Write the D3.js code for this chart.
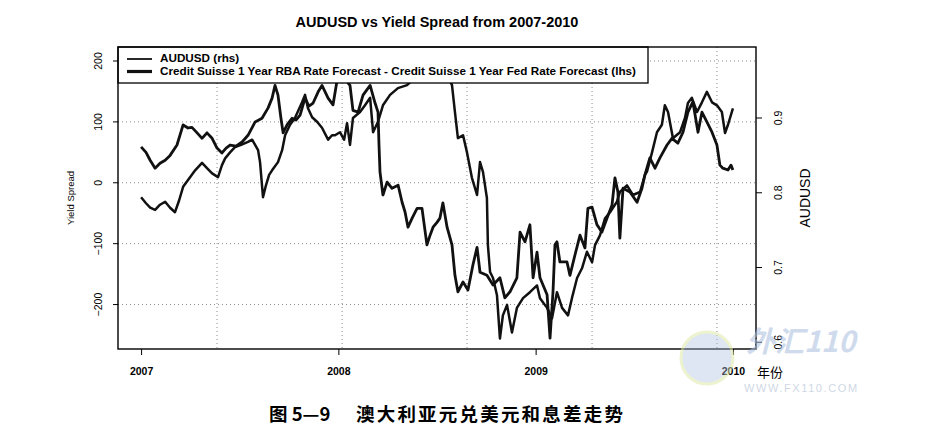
<!DOCTYPE html>
<html>
<head>
<meta charset="utf-8">
<script src="https://cdn.jsdelivr.net/npm/d3@7"></script>
<style>
  html, body { margin: 0; padding: 0; background: #fff; }
  svg { display: block; }
</style>
</head>
<body>
<div id="chart"></div>
<script>
// Yield spread (lhs, bp) - decimal year / value
const spreadT = [
  2007.000,2007.025,2007.046,2007.071,2007.096,2007.122,2007.147,2007.182,2007.213,2007.238,
  2007.258,2007.284,2007.309,2007.334,2007.360,2007.385,2007.410,2007.431,2007.451,2007.481,
  2007.512,2007.542,2007.578,2007.613,2007.644,2007.664,2007.679,2007.694,2007.709,2007.720,
  2007.740,2007.765,2007.785,2007.806,2007.831,2007.851,2007.872,2007.897,2007.917,2007.948,
  2007.973,2007.998,2008.029,2008.059,2008.074,2008.100,2008.125,2008.161,2008.186,2008.201,
  2008.206,2008.211,2008.226,2008.247,2008.272,2008.303,2008.323,2008.338,2008.353,2008.374,
  2008.399,2008.424,2008.449,2008.465,2008.480,2008.500,2008.515,2008.530,2008.551,2008.576,
  2008.591,2008.606,2008.632,2008.657,2008.682,2008.703,2008.718,2008.753,2008.784,2008.819,
  2008.844,2008.870,2008.905,2008.921,2008.946,2008.971,2008.987,2009.007,2009.022,2009.058,
  2009.073,2009.088,2009.098,2009.108,2009.123,2009.159,2009.174,2009.199,2009.225,2009.250,
  2009.265,2009.286,2009.311,2009.336,2009.362,2009.387,2009.402,2009.417,2009.427,2009.443,
  2009.478,2009.514,2009.539,2009.554,2009.579,2009.605,2009.630,2009.666,2009.691,2009.721,
  2009.747,2009.772,2009.797,2009.823,2009.843,2009.868,2009.894,2009.919,2009.934,2009.949,
  2009.975,2009.990,2010.000
];
const spreadV = [
  59,50,37,24,32,37,45,62,95,90,
  91,82,73,82,73,57,49,57,62,60,
  67,78,100,106,123,139,160,144,106,82,
  95,106,103,111,139,126,131,149,160,139,
  128,177,172,160,119,116,144,160,131,116,
  62,18,-20,1,-9,-4,-32,-48,-73,-58,
  -42,-42,-102,-86,-73,-65,-58,-33,-73,-102,
  -152,-179,-163,-176,-135,-106,-147,-152,-168,-156,
  -189,-179,-156,-81,-97,-69,-156,-114,-156,-184,
  -255,-179,-102,-97,-130,-130,-152,-119,-86,-107,
  -42,-40,-69,-81,-58,-37,8,-15,-91,-9,
  -15,-32,-9,13,41,24,41,62,73,65,
  83,116,133,83,116,100,83,62,29,24,
  21,29,21
];

// AUDUSD (rhs)
const audT = [
  2007.000,2007.025,2007.046,2007.071,2007.096,2007.122,2007.147,2007.172,2007.193,2007.213,
  2007.238,2007.274,2007.309,2007.334,2007.360,2007.390,2007.410,2007.426,2007.451,2007.476,
  2007.507,2007.542,2007.563,2007.578,2007.593,2007.603,2007.618,2007.633,2007.649,2007.664,
  2007.694,2007.715,2007.730,2007.755,2007.780,2007.816,2007.831,2007.846,2007.867,2007.892,
  2007.917,2007.948,2007.968,2007.983,2008.008,2008.029,2008.044,2008.059,2008.074,2008.110,
  2008.135,2008.161,2008.176,2008.201,2008.226,2008.262,2008.302,2008.348,2008.378,2008.414,
  2008.449,2008.480,2008.515,2008.546,2008.576,2008.591,2008.606,2008.632,2008.652,2008.677,
  2008.703,2008.718,2008.733,2008.753,2008.758,2008.769,2008.784,2008.804,2008.819,2008.834,
  2008.855,2008.880,2008.905,2008.936,2008.971,2009.007,2009.022,2009.058,2009.083,2009.108,
  2009.134,2009.164,2009.184,2009.210,2009.235,2009.260,2009.286,2009.301,2009.326,2009.352,
  2009.377,2009.412,2009.427,2009.463,2009.493,2009.529,2009.554,2009.564,2009.590,2009.615,
  2009.640,2009.655,2009.671,2009.696,2009.732,2009.757,2009.772,2009.792,2009.818,2009.843,
  2009.868,2009.894,2009.919,2009.944,2009.960,2009.975,2010.000
];
const audV = [
  0.794,0.786,0.780,0.777,0.784,0.788,0.780,0.774,0.790,0.808,
  0.817,0.830,0.840,0.833,0.826,0.821,0.837,0.846,0.854,0.861,
  0.864,0.868,0.871,0.864,0.857,0.841,0.794,0.810,0.824,0.830,
  0.841,0.857,0.877,0.891,0.900,0.921,0.931,0.913,0.901,0.895,
  0.887,0.871,0.877,0.877,0.881,0.871,0.893,0.864,0.900,0.908,
  0.917,0.927,0.881,0.895,0.917,0.931,0.940,0.944,0.951,0.962,
  0.958,0.964,0.967,0.962,0.944,0.908,0.873,0.877,0.854,0.820,
  0.797,0.841,0.828,0.793,0.730,0.694,0.686,0.663,0.605,0.636,
  0.650,0.613,0.646,0.659,0.667,0.676,0.659,0.646,0.632,0.667,
  0.646,0.636,0.659,0.686,0.699,0.721,0.707,0.730,0.743,0.766,
  0.774,0.788,0.801,0.810,0.797,0.801,0.824,0.828,0.854,0.881,
  0.891,0.917,0.908,0.873,0.881,0.900,0.920,0.927,0.908,0.921,
  0.935,0.921,0.917,0.908,0.880,0.891,0.913
];

// ticks / labels
const yearTicks = [2007, 2008, 2009, 2010];
const spreadTicks = [-200, -100, 0, 100, 200];
const audTicks = [0.6, 0.7, 0.8, 0.9];
const gridYears = [2007.385, 2008.019, 2008.652, 2009.286, 2009.919];
const legendLabels = [
  'AUDUSD (rhs)',
  'Credit Suisse 1 Year RBA Rate Forecast - Credit Suisse 1 Year Fed Rate Forecast (lhs)'
];

const W = 942, H = 448;
const plot = { left: 118, right: 756, top: 47, bottom: 349 };
const FONT = '"Liberation Sans", Arial, sans-serif';
const CJK = '"Noto Sans CJK SC", sans-serif';

const svg = d3.select('#chart').append('svg')
  .attr('width', W).attr('height', H)
  .attr('viewBox', [0, 0, W, H]);

// scales (R style 4% padding already folded into the domains)
const x = d3.scaleLinear().domain([2006.883, 2010.117]).range([plot.left, plot.right]);
const yL = d3.scaleLinear().domain([-273, 223]).range([plot.bottom, plot.top]);
const yR = d3.scaleLinear().domain([0.591, 0.995]).range([plot.bottom, plot.top]);

// title
svg.append('text')
  .attr('x', (plot.left + plot.right) / 2).attr('y', 27)
  .attr('text-anchor', 'middle')
  .style('font', `bold 14.5px ${FONT}`)
  .text('AUDUSD vs Yield Spread from 2007-2010');

// dotted grid
const grid = svg.append('g')
  .attr('stroke', '#8a8a8a').attr('stroke-width', 1)
  .attr('stroke-dasharray', '1,3');
grid.selectAll('.hg').data(spreadTicks).enter().append('line')
  .attr('x1', plot.left).attr('x2', plot.right)
  .attr('y1', d => yL(d)).attr('y2', d => yL(d));
grid.selectAll('.vg').data(gridYears).enter().append('line')
  .attr('y1', plot.top).attr('y2', plot.bottom)
  .attr('x1', d => x(d)).attr('x2', d => x(d));

// lines
svg.append('clipPath').attr('id', 'clip')
  .append('rect')
  .attr('x', plot.left).attr('y', plot.top)
  .attr('width', plot.right - plot.left).attr('height', plot.bottom - plot.top);

const spreadLine = d3.line().x(d => x(d[0])).y(d => yL(d[1]));
const audLine = d3.line().x(d => x(d[0])).y(d => yR(d[1]));

const lines = svg.append('g').attr('clip-path', 'url(#clip)');
lines.append('path')
  .datum(spreadT.map((t, i) => [t, spreadV[i]]))
  .attr('d', spreadLine)
  .attr('fill', 'none').attr('stroke', '#111')
  .attr('stroke-width', 2.8).attr('stroke-linejoin', 'round');
lines.append('path')
  .datum(audT.map((t, i) => [t, audV[i]]))
  .attr('d', audLine)
  .attr('fill', 'none').attr('stroke', '#111')
  .attr('stroke-width', 2.5).attr('stroke-linejoin', 'round');

// left axis
const axL = svg.append('g')
  .attr('transform', `translate(${plot.left},0)`)
  .call(d3.axisLeft(yL).tickValues(spreadTicks).tickSize(5).tickFormat(d3.format('d')));
axL.select('.domain').remove();
axL.selectAll('.tick').attr('transform', null);
axL.selectAll('.tick line').attr('y1', d => yL(d)).attr('y2', d => yL(d));
axL.selectAll('text')
  .attr('x', null).attr('dy', null).attr('y', 0)
  .attr('text-anchor', 'middle')
  .attr('transform', d => `translate(-19,${yL(d)}) rotate(-90)`)
  .attr('dominant-baseline', 'middle')
  .style('font', `10.5px ${FONT}`);

// right axis
const axR = svg.append('g')
  .attr('transform', `translate(${plot.right},0)`)
  .call(d3.axisRight(yR).tickValues(audTicks).tickSize(6).tickFormat(d3.format('.1f')));
axR.select('.domain').remove();
axR.selectAll('.tick').attr('transform', null);
axR.selectAll('.tick line').attr('y1', d => yR(d)).attr('y2', d => yR(d));
axR.selectAll('text')
  .attr('x', null).attr('dy', null).attr('y', 0)
  .attr('text-anchor', 'middle')
  .attr('transform', d => `translate(23,${yR(d)}) rotate(-90)`)
  .attr('dominant-baseline', 'middle')
  .style('font', `10.5px ${FONT}`);

// bottom axis
const axB = svg.append('g')
  .attr('transform', `translate(0,${plot.bottom})`)
  .call(d3.axisBottom(x).tickValues(yearTicks).tickSize(6).tickFormat(d3.format('d')));
axB.select('.domain').remove();
axB.selectAll('text')
  .attr('y', 19)
  .style('font', `bold 10.5px ${FONT}`);

// axis titles
svg.append('text')
  .attr('transform', `translate(71,${(plot.top + plot.bottom) / 2}) rotate(-90)`)
  .attr('text-anchor', 'middle').attr('dominant-baseline', 'middle')
  .style('font', `9.5px ${FONT}`)
  .text('Yield Spread');
svg.append('text')
  .attr('transform', `translate(806,${(plot.top + plot.bottom) / 2}) rotate(-90)`)
  .attr('text-anchor', 'middle').attr('dominant-baseline', 'middle')
  .style('font', `14px ${FONT}`)
  .text('AUDUSD');

// legend (white box over the lines)
const lg = svg.append('g');
lg.append('rect')
  .attr('x', plot.left).attr('y', plot.top)
  .attr('width', 530).attr('height', 36)
  .attr('fill', '#fff').attr('stroke', '#000').attr('stroke-width', 1.3);
legendLabels.forEach((lab, i) => {
  const yy = plot.top + 12 + i * 12.5;
  lg.append('line')
    .attr('x1', plot.left + 9).attr('x2', plot.left + 34)
    .attr('y1', yy).attr('y2', yy)
    .attr('stroke', '#111').attr('stroke-width', i === 0 ? 1.8 : 3.2);
  lg.append('text')
    .attr('x', plot.left + 42).attr('y', yy)
    .attr('dominant-baseline', 'middle')
    .style('font', `bold 11.7px ${FONT}`)
    .text(lab);
});

// plot box
svg.append('rect')
  .attr('x', plot.left).attr('y', plot.top)
  .attr('width', plot.right - plot.left).attr('height', plot.bottom - plot.top)
  .attr('fill', 'none').attr('stroke', '#000').attr('stroke-width', 1.4);

// 年份 + caption
svg.append('text')
  .attr('x', 757).attr('y', 377)
  .style('font', `13px ${CJK}`)
  .text('年份');
svg.append('text')
  .attr('x', 269).attr('y', 421)
  .style('font', `bold 18.5px ${CJK}`)
  .text('图 5—9');
svg.append('text')
  .attr('x', 356).attr('y', 421)
  .attr('letter-spacing', 2.2)
  .style('font', `bold 18.5px ${CJK}`)
  .text('澳大利亚元兑美元和息差走势');

// watermark
const wm = svg.append('g').attr('opacity', 0.55);
wm.append('circle')
  .attr('cx', 707).attr('cy', 358).attr('r', 26)
  .attr('fill', '#a9bfe0').attr('fill-opacity', 0.7)
  .attr('stroke', '#dfe9a8').attr('stroke-width', 3);
wm.append('text')
  .attr('x', 746).attr('y', 352)
  .style('font', `italic bold 29px ${CJK}`)
  .attr('fill', '#a9bfe0')
  .text('外汇110');
wm.append('text')
  .attr('x', 744).attr('y', 392)
  .attr('letter-spacing', 1.6)
  .style('font', `11px ${FONT}`)
  .attr('fill', '#aab8cf')
  .text('WWW.FX110.COM');
</script>
</body>
</html>
